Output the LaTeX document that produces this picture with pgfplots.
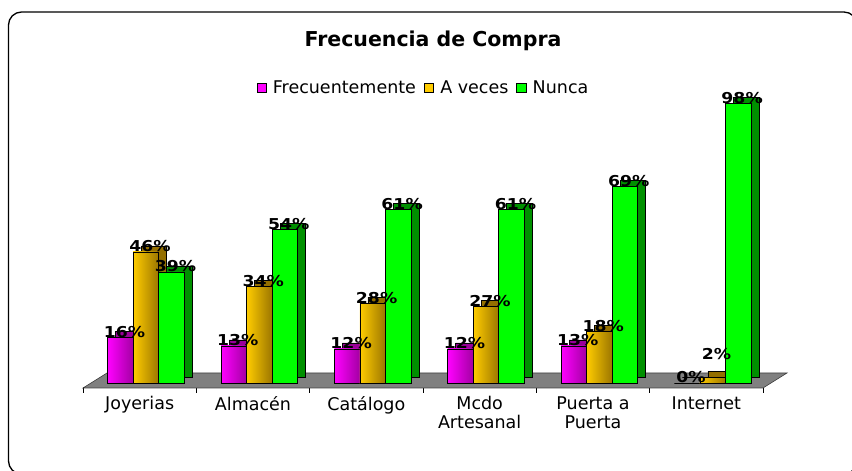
\documentclass[border=0pt]{standalone}
\usepackage{pgfplots}
\pgfplotsset{compat=1.18}
\usepackage{pgfplotstable}
\usepackage{fontspec}
\setmainfont{DejaVu Sans}
\newfontfamily\lblfont[FakeStretch=1.15]{DejaVu Sans Bold}

\definecolor{magF}{HTML}{FF00FF}
\definecolor{magR}{HTML}{A300A3}
\definecolor{magD}{HTML}{990099}
\definecolor{golF}{HTML}{FFCC00}
\definecolor{golR}{HTML}{9C7600}
\definecolor{golD}{HTML}{946F00}
\definecolor{grnF}{HTML}{00FF00}
\definecolor{grnD}{HTML}{009000}
\definecolor{floorgray}{HTML}{808080}

\pgfplotstableread{
x f a n fdy ady ndy
0 16 46 39 0 0 0
1 13 34 54 0 0 0
2 12 28 61 0 0 0
3 12 27 61 0 0 0
4 13 18 69 0 0 0
5 0 2 98 0 18 0
}\datatable

\begin{document}
\begin{tikzpicture}
\begin{scope}
\clip (0bp,0bp) rectangle (852bp,471bp);
\draw[line width=1.3bp, rounded corners=13bp] (8.5bp,-3bp) rectangle (857bp,459bp);
\end{scope}
\node[anchor=base, font=\fontsize{20.5bp}{24bp}\selectfont\bfseries] at (433bp,424bp) {Frecuencia de Compra};
\begin{axis}[
  at={(83bp,83bp)}, anchor=south west,
  scale only axis, width=680bp, height=290bp,
  xmin=-0.5, xmax=5.5, ymin=-1.75, ymax=100,
  clip=false,
  axis x line*=bottom, axis y line=none,
  axis line style={line width=1bp, black},
  xtick={0,...,5},
  xticklabels={Joyerias,Almacén,Catálogo,{Mcdo\\Artesanal},{Puerta a\\Puerta},Internet},
  minor xtick={-0.5,0.5,...,5.5},
  major tick length=0pt, minor tick length=5bp, tick align=outside,
  minor tick style={black, line width=1bp},
  xticklabel style={align=center, font=\fontsize{17.5bp}{19bp}\selectfont, yshift=-5bp},
  legend columns=3,
  legend style={at={(0.5007,1.034)}, anchor=center, draw=none, fill=none,
    font=\fontsize{17.5bp}{19bp}\selectfont,
    /tikz/every odd column/.append style={column sep=4bp},
    /tikz/every even column/.append style={column sep=6bp}},
  legend image code/.code={\draw[#1, line width=0.8bp] (0bp,-4.75bp) rectangle (9.5bp,4.75bp);},
  /pgf/number format/assume math mode=true,
  bw/.style={ybar, bar width=25.5bp, draw=black, line width=0.5bp, forget plot},
]
% floor
\fill[fill=floorgray, draw=black!75, line width=0.6bp]
  (axis cs:-0.5,-1.75) -- (axis cs:5.5,-1.75)
  -- ([shift={(24bp,15bp)}]axis cs:5.5,-1.75)
  -- ([shift={(24bp,15bp)}]axis cs:-0.5,-1.75) -- cycle;

% Frecuentemente
\addplot[bw, bar shift=-11.2bp, yshift=6bp, fill=magD] table[x=x,y=f]{\datatable};
\pgfplotsinvokeforeach{0,...,5}{
\addplot[bw, bar shift=-19.2bp, left color=magF, middle color=magF, right color=magR,
  restrict expr to domain={\coordindex}{#1:#1}] table[x=x,y=f]{\datatable};
}
% A veces
\addplot[bw, bar shift=14.3bp, yshift=6bp, fill=golD] table[x=x,y=a]{\datatable};
\pgfplotsinvokeforeach{0,...,5}{
\addplot[bw, bar shift=6.3bp, left color=golF, middle color=golF, right color=golR,
  restrict expr to domain={\coordindex}{#1:#1}] table[x=x,y=a]{\datatable};
}
% Nunca
\addplot[bw, bar shift=39.8bp, yshift=6bp, fill=grnD] table[x=x,y=n]{\datatable};
\addplot[bw, bar shift=31.8bp, fill=grnF] table[x=x,y=n]{\datatable};

% labels
\pgfplotsset{lbl/.style={ybar, bar width=25.5bp, bar shift=0bp, draw=none, fill=none, forget plot,
  point meta=y,
  nodes near coords={\pgfmathprintnumber{\pgfplotspointmeta}\%},
  every node near coord/.append style={anchor=center, font=\fontsize{15bp}{17bp}\lblfont, text=black, xshift=#1, yshift=5.5bp+\dy bp}}}
\addplot[lbl=-15.2bp, visualization depends on={\thisrow{fdy} \as \dy}] table[x=x,y=f]{\datatable};
\addplot[lbl=10.3bp, visualization depends on={\thisrow{ady} \as \dy}] table[x=x,y=a]{\datatable};
\addplot[lbl=35.8bp, visualization depends on={\thisrow{ndy} \as \dy}] table[x=x,y=n]{\datatable};

\addlegendimage{fill=magF, draw=black}\addlegendentry{Frecuentemente}
\addlegendimage{fill=golF, draw=black}\addlegendentry{A veces}
\addlegendimage{fill=grnF, draw=black}\addlegendentry{Nunca}
\end{axis}
\pgfresetboundingbox
\useasboundingbox (0bp,0bp) rectangle (852bp,471bp);
\end{tikzpicture}
\end{document}
